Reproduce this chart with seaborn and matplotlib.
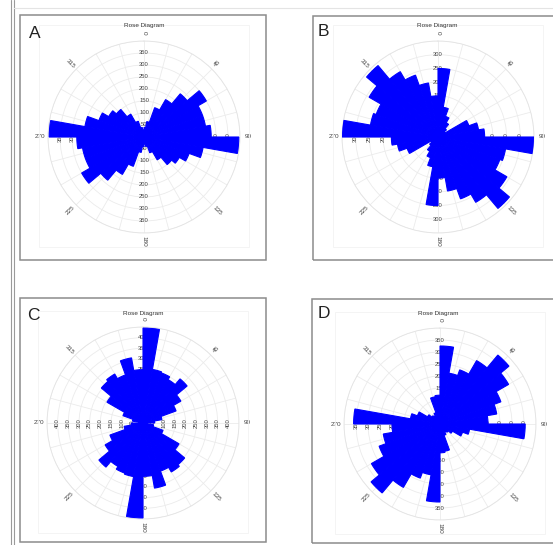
import numpy as np
import matplotlib
matplotlib.use("Agg")
import matplotlib.pyplot as plt
import seaborn as sns
from matplotlib.patches import Rectangle
from matplotlib.lines import Line2D

# ---------------- data ----------------
bin_starts = list(range(0, 360, 10))          # 10-degree direction bins (compass, clockwise from N)
panel_letters = ["A", "B", "C", "D"]
panel_title = "Rose Diagram"
theta_label_values = [0, 45, 90, 135, 180, 225, 270, 315]

values_A = [40, 65, 130, 180, 235, 300, 260, 260, 280, 395, 250, 200, 170, 150, 110, 70, 40, 30,
            40, 65, 130, 180, 235, 300, 260, 260, 280, 395, 250, 200, 170, 150, 110, 70, 40, 30]
values_B = [250, 110, 80, 60, 40, 30, 120, 150, 170, 350, 250, 240, 290, 340, 275, 240, 200, 150,
            250, 110, 80, 60, 40, 30, 120, 150, 170, 350, 250, 240, 290, 340, 275, 240, 200, 150]
values_C = [445, 255, 250, 235, 270, 205, 165, 90, 55, 20, 50, 100, 195, 255, 265, 240, 310, 250,
            445, 255, 250, 235, 270, 205, 165, 90, 55, 20, 50, 100, 195, 255, 265, 240, 310, 250]
values_D = [325, 215, 240, 305, 375, 330, 270, 240, 200, 355, 125, 100, 60, 45, 40, 50, 115, 120,
            325, 215, 240, 305, 375, 330, 270, 240, 200, 360, 125, 100, 60, 45, 40, 50, 115, 120]
panel_values = [values_A, values_B, values_C, values_D]

r_max = [400, 350, 450, 400]
r_ticks_A = [50, 100, 150, 200, 250, 300, 350]
r_ticks_B = [50, 100, 150, 200, 250, 300]
r_ticks_C = [50, 100, 150, 200, 250, 300, 350, 400]
r_ticks_D = [50, 100, 150, 200, 250, 300, 350]
panel_rticks = [r_ticks_A, r_ticks_B, r_ticks_C, r_ticks_D]

# ---------------- layout (pixels) ----------------
W, H = 553, 545
centers = [(144, 137), (438, 137), (143, 423), (440, 424)]
R = 96
boxes = [(20, 15, 266, 260), (313, 16, 560, 260), (20, 298, 266, 542), (312, 299, 560, 543)]
title_pos = [(144, 25), (437, 25), (143, 313), (438, 313)]
letter_pos = [(29, 33), (318, 32), (27, 315), (318, 314)]

sns.set_theme(style="white")
plt.rcParams['font.family'] = ['Liberation Sans', 'DejaVu Sans']

fig = plt.figure(figsize=(W / 100, H / 100), dpi=100)
fig.patch.set_facecolor("white")

def fx(x):
    return x / W

def fy(y):
    return 1 - y / H

# page decorations
fig.add_artist(Line2D([fx(10.5), fx(10.5)], [0, 1], transform=fig.transFigure, color="#9a9a9a", lw=0.8))
fig.add_artist(Line2D([fx(13.5), fx(13.5)], [0, 1], transform=fig.transFigure, color="#9a9a9a", lw=0.8))
fig.add_artist(Line2D([fx(14), 1], [fy(8), fy(8)], transform=fig.transFigure, color="#e4e4e4", lw=0.8))

bar_color = "#0000ff"

for i in range(4):
    x0, y0, x1, y1 = boxes[i]
    fig.add_artist(Rectangle((fx(x0), fy(y1)), (x1 - x0) / W, (y1 - y0) / H,
                             transform=fig.transFigure, fill=False, ec="#8c8c8c", lw=1.1))
    cx, cy = centers[i]
    fig.add_artist(Rectangle((fx(cx - 105), fy(cy + 110)), 210 / W, 222 / H,
                             transform=fig.transFigure, fill=False, ec="#f3f3f3", lw=0.6))

    ax = fig.add_axes([fx(cx - R), fy(cy + R), 2 * R / W, 2 * R / H], projection="polar")
    ax.set_theta_zero_location("N")
    ax.set_theta_direction(-1)
    ax.set_facecolor("none")
    rm = r_max[i]

    ax.set_thetagrids(np.arange(0, 360, 15), labels=[])
    ax.set_rgrids(np.arange(50, rm + 1, 50), labels=[])
    ax.grid(True, color="#ebebeb", lw=0.6)
    ax.set_axisbelow(True)
    for gl in ax.xaxis.get_gridlines() + ax.yaxis.get_gridlines():
        gl.set_zorder(0.2)
    ax.spines["polar"].set_color("#e3e3e3")
    ax.spines["polar"].set_linewidth(0.6)
    ax.tick_params(pad=0, length=0)

    theta = np.deg2rad(np.array(bin_starts) + 5)
    ax.bar(theta, panel_values[i], width=np.deg2rad(10), color=bar_color,
           edgecolor=bar_color, linewidth=0.8, zorder=3)
    ax.set_ylim(0, rm)

    # angular labels
    for a in theta_label_values:
        rot = ((90 - a + 90) % 180) - 90
        ax.text(np.deg2rad(a), rm * 1.085, str(a), rotation=rot, ha="center", va="center",
                fontsize=4.6, color="#444444", clip_on=False, rotation_mode="anchor", zorder=4)

    # radial labels along the four main directions (hidden under bars where covered)
    for d in [0, 90, 180, 270]:
        rot = 0 if d in (0, 180) else 90
        for t in panel_rticks[i]:
            ax.text(np.deg2rad(d), t, str(t), rotation=rot, ha="center", va="center",
                    fontsize=4.2, color="#444444", zorder=2.5)

    tx, ty = title_pos[i]
    fig.text(fx(tx), fy(ty), panel_title, fontsize=4.6, ha="center", va="center", color="#333333")
    lx, ly = letter_pos[i]
    fig.text(fx(lx), fy(ly), panel_letters[i], fontsize=12.5, ha="left", va="center", color="#222222")

fig.savefig("out.png", dpi=100)
